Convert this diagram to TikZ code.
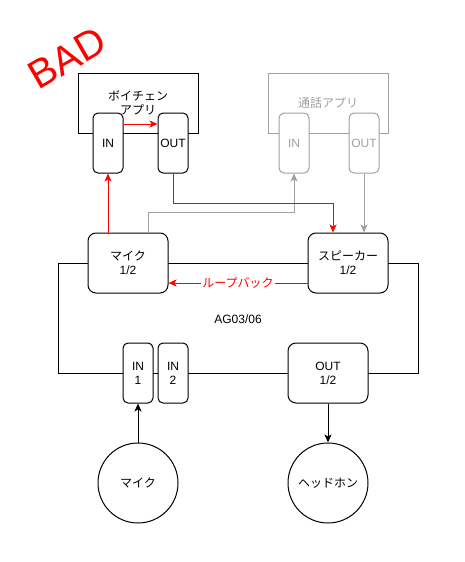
\documentclass[tikz,border=0pt]{standalone}
\usepackage{fontspec}
\setmainfont{Liberation Sans}
\newfontfamily\jp{Noto Sans CJK JP}
\usetikzlibrary{arrows.meta,calc}
\definecolor{redc}{HTML}{FF0000}
\definecolor{grayc}{HTML}{A0A0A0}
\tikzset{
  base/.style={draw, line width=1pt, fill=white, align=center, inner sep=0pt,
    font=\fontsize{12}{14}\selectfont},
  smallbox/.style={base, rounded corners=5pt, minimum width=30pt, minimum height=60pt},
  bigbox/.style={base, rounded corners=8pt, minimum width=80pt, minimum height=60pt},
  appbox/.style={base, minimum width=120pt, minimum height=60pt},
  dev/.style={base, circle, minimum size=80pt},
  ghost/.style={draw=grayc, text=grayc},
  conn/.style={line width=1pt, -{Stealth[length=8pt,width=7pt,inset=2pt]}},
}
\begin{document}
\begin{tikzpicture}[x=1pt,y=-1pt]
\useasboundingbox (0,0) rectangle (465,562);
% BAD
\node[text=redc, rotate=30, font=\fontsize{40}{48}\selectfont, inner sep=0pt] (bad) at (67,58) {BAD};
% AG03/06 body
\draw[line width=1pt] (58,263) rectangle (418,373);
\node[font=\fontsize{12}{14}\selectfont] (ag) at (238,319) {AG03/06};
% voice changer app
\node[appbox] (vc) at (138,103) {\jp ボイチェン\\\jp アプリ};
\node[smallbox] (vin) at (108,143) {IN};
\node[smallbox] (vout) at (173,143) {OUT};
% call app
\node[appbox, ghost] (tc) at (328,103) {\jp 通話アプリ};
\node[smallbox, ghost] (tin) at (294,143) {IN};
\node[smallbox, ghost] (tout) at (364,143) {OUT};
% AG03 parts
\node[bigbox] (mic) at (128,263) {\jp マイク\\1/2};
\node[bigbox] (spk) at (348,263) {\jp スピーカー\\1/2};
\node[smallbox] (in1) at (138,373) {IN\\1};
\node[smallbox] (in2) at (173,373) {IN\\2};
\node[bigbox] (outb) at (328,373) {OUT\\1/2};
% devices
\node[dev] (micc) at (138,483) {\jp マイク};
\node[dev] (hp) at (328,483) {\jp ヘッドホン};
% connectors
\draw[conn, redc] ([yshift=19pt]vin.east) -- ([yshift=19pt]vout.west);
\draw[conn, grayc] ([xshift=20pt]mic.north) -- ++(0,-20) -| (tin.south);
\draw[conn, grayc] (tout.south) -- (tout.south |- spk.north);
\draw[conn, redc] (vout.south) -- ++(0,30) -| ([xshift=-15pt]spk.north);
\draw[conn, redc] ([xshift=-20pt]mic.north) -- (vin.south);
\draw[conn, redc] ([yshift=-20pt]spk.west) -- node[fill=white, inner sep=1pt, text=redc, font=\fontsize{12}{14}\selectfont\jp] (lb) {ループバック} ([yshift=-20pt]mic.east);
\draw[conn] (micc.north) -- (in1.south);
\draw[conn] (outb.south) -- (hp.north);
\end{tikzpicture}
\end{document}
